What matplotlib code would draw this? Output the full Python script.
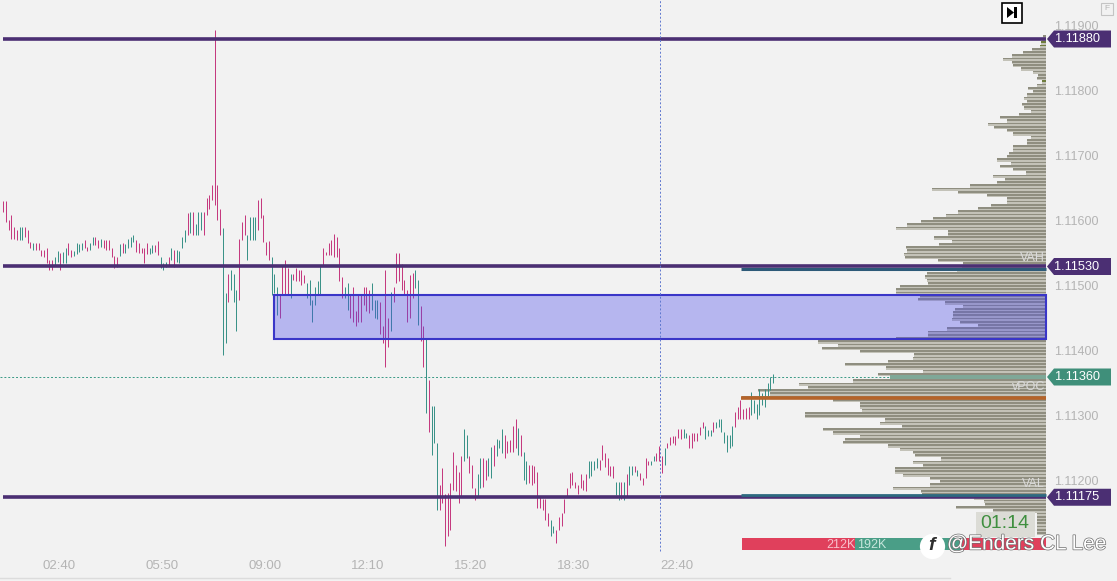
import numpy as np
import matplotlib
matplotlib.use("Agg")
import matplotlib.pyplot as plt
from matplotlib.patches import Rectangle, Polygon
import matplotlib.patheffects as pe

plt.rcParams["font.family"] = ["Liberation Sans", "DejaVu Sans"]

# bar highs / lows, in 1e-5 above 1.10000 (5 min bars)
highs = [1630,1630,1601,1609,1591,1586,1590,1590,1590,1586,1568,1566,1566,1566,1556,1555,1559,1540,1540,1545,
         1554,1550,1553,1558,1566,1555,1554,1566,1565,1566,1570,1560,1566,1575,1575,1571,1573,1571,1571,1571,
         1558,1546,1545,1565,1566,1565,1572,1575,1578,1570,1566,1558,1558,1566,1558,1563,1563,1569,1545,1536,
         1537,1545,1558,1555,1555,1554,1576,1586,1612,1614,1614,1596,1614,1614,1614,1635,1640,1655,1894,1655,
         1619,1589,1489,1519,1524,1519,1494,1573,1599,1609,1578,1606,1606,1606,1632,1635,1609,1568,1569,1545,
         1519,1499,1486,1532,1540,1527,1519,1519,1527,1524,1524,1517,1504,1509,1478,1499,1507,1530,1559,1553,
         1566,1571,1580,1575,1558,1514,1499,1504,
         1486,1499,1461,1486,1486,1499,1499,1494,1505,1479,1479,1475,1439,1525,1450,1491,1499,1550,1550,1534,
         1509,1494,1517,1520,1525,1509,1469,1439,1420,1356,1316,1316,1259,1194,1220,1180,1181,1197,1245,1225,
         1214,1238,1280,1271,1239,1225,1189,1211,1235,1235,1232,1235,1253,1256,1264,1263,1280,1271,1261,1263,
         1284,1295,1281,1271,1245,1230,1225,1225,1223,1214,1176,1173,1173,1150,1140,1130,1125,1145,1150,1173,
         1189,1212,1214,1199,1194,1211,1202,1210,1230,1230,1230,1235,1232,1256,1243,1235,1223,1223,1199,1199,
         1199,1199,1210,1223,1223,1223,1217,1212,1204,1235,1231,1231,1239,1243,1254,1239,1250,1259,1268,1269,
         1269,1280,1280,1280,1274,1271,1274,1274,1274,
         1283,1290,1284,1279,1279,1290,1291,1295,1295,1276,1271,1271,1284,1306,1314,1324,1310,1312,1314,1337,
         1324,1319,1342,1335,1342,1350,1360,1364]
lows = [1614,1599,1586,1573,1573,1571,1571,1571,1576,1566,1558,1555,1555,1555,1546,1545,1535,1524,1524,1532,
        1537,1524,1535,1536,1548,1545,1546,1549,1553,1555,1558,1554,1555,1563,1563,1559,1560,1558,1555,1555,
        1545,1527,1529,1546,1550,1551,1558,1560,1568,1553,1550,1550,1535,1549,1549,1550,1553,1548,1527,1524,
        1529,1532,1540,1529,1537,1536,1558,1568,1578,1581,1578,1578,1578,1586,1578,1609,1619,1632,1625,1601,
        1578,1394,1412,1476,1494,1476,1430,1478,1571,1578,1540,1571,1571,1571,1586,1604,1568,1548,1540,1486,
        1489,1455,1450,1486,1486,1486,1481,1509,1507,1507,1501,1504,1481,1471,1445,1471,1486,1486,1532,1548,
        1548,1548,1545,1545,1507,1481,1481,1463,
        1450,1445,1439,1445,1445,1471,1461,1458,1463,1450,1449,1426,1412,1375,1406,1430,1476,1504,1507,1494,
        1486,1445,1450,1481,1497,1440,1415,1375,1304,1276,1240,1258,1155,1155,1166,1100,1115,1125,1186,1184,
        1166,1176,1230,1235,1212,1189,1171,1176,1189,1191,1202,1207,1204,1223,1238,1250,1243,1235,1243,1245,
        1245,1250,1240,1238,1201,1196,1197,1194,1197,1158,1158,1155,1140,1130,1115,1120,1104,1125,1130,1150,
        1176,1189,1194,1189,1180,1189,1186,1184,1204,1207,1217,1220,1217,1232,1222,1209,1207,1204,1179,1171,
        1172,1171,1176,1194,1209,1214,1207,1202,1194,1204,1225,1225,1230,1230,1230,1212,1225,1250,1256,1259,
        1256,1266,1264,1266,1266,1250,1250,1261,1261,
        1271,1281,1264,1269,1269,1276,1281,1283,1276,1259,1245,1250,1254,1283,1296,1296,1295,1296,1295,1301,
        1304,1295,1301,1317,1314,1330,1340,1350]
# r = down bar, g = up bar, one letter per bar
bar_dir = ("rrrrrrggrrrgrrrrrrrgg" "rggrrggggrrggrrgrrrrrrgrggggrrrrrggrrggg" "rgrggggrgrgggrrrrrr"
           "rggrgggrrrggggrrrrrgggrrrrgrrrrrggggggrrrrr"
           "rrrggrrrrrrrrgggrrrrgrrrrrrrrggrrgrgggrrrrrrrrrg" "grrrggrrggrgggrrrrrgrggrrrrrrrrggrrrrrrrrrrrrgg"
           "ggrrrrrrggrgrggrgrrrrggrrrgrrrrrrggrrrrrrgggrgggggggrrrrrrg")
bar_dir = (bar_dir + "g" * len(highs))[:len(highs)]

# volume profile: row length for each 0.00005 level, from the top down
profile_top = 1885
profile = [3,4,5,6,14,23,34,43,34,33,25,13,8,9,4,9,18,13,19,22,19,24,22,15,27,46,39,58,52,39,33,15,19,19,33,33,37,39,49,35,
           46,33,20,53,41,49,76,114,88,59,39,39,55,68,88,100,113,125,139,150,98,98,112,94,107,140,139,142,141,108,83,84,89,119,121,119,118,146,150,150,
           126,128,101,83,91,93,93,94,86,68,99,118,118,150,228,208,224,186,132,133,158,201,160,123,168,156,193,247,238,288,276,304,213,186,186,184,241,241,161,166,
           144,223,213,186,201,203,158,146,133,131,105,133,123,151,151,143,116,106,116,153,125,124,72,62,61,90,53,9,9,9,9,9,9,9]
olive_rows = [2, 3, 14]

price_ticks = [1.119, 1.118, 1.117, 1.116, 1.115, 1.114, 1.113, 1.112]
time_labels = ["02:40", "05:50", "09:00", "12:10", "15:20", "18:30", "22:40"]
level_lines = [1.1188, 1.1153, 1.11175]
vah, poc, val = 1.11526, 1.11328, 1.11178
last_price = 1.1136
zone_top, zone_bottom = 1.11486, 1.11419
delta_sell, delta_buy, delta_sell2 = 113, 105, 86

W, H = 1117, 581


def ix(px):
    return (px - 3.33) / 2.71 + 1


def ypx(price):
    return 26 + (1.119 - price) * 65000


fig = plt.figure(figsize=(W / 100, H / 100), dpi=100, facecolor="#f2f2f2")

# profile goes underneath, x runs in pixels leftwards from the scale edge
ax_prof = fig.add_axes([0, 0, 1, 1], facecolor="#f2f2f2")
ax_prof.set_xlim(1046, 1046 - W)
ax_prof.set_ylim(1.119 - (H - 26) / 65000, 1.119 + 26 / 65000)
ax_prof.axis("off")
levels = 1.10 + (profile_top - 5 * np.arange(len(profile))) / 1e5
row_cols = ["#6f7d3e" if i in olive_rows else "#8f8e80" for i in range(len(profile))]
ax_prof.barh(levels - 0.000025, profile, height=0.00002, color="#c3c2b8", linewidth=0)
ax_prof.barh(levels, profile, height=0.00003, color=row_cols, linewidth=0)
ax_prof.barh(1.1136, 156, height=0.00005, color="#7fa898", linewidth=0)
# buy/sell strip at the bottom
strip_y = 1.119 - (544 - 26) / 65000
ax_prof.barh(strip_y, delta_sell2, height=0.00018, color="#e0405c", linewidth=0)
ax_prof.barh(strip_y, delta_buy, left=delta_sell2, height=0.00018, color="#4a9e87", linewidth=0)
ax_prof.barh(strip_y, delta_sell, left=delta_sell2 + delta_buy, height=0.00018, color="#e0405c", linewidth=0)

ax = fig.add_axes([0, 0, 1, 1])
ax.patch.set_visible(False)
ax.set_xlim(ix(0), ix(W))
ax.set_ylim(ax_prof.get_ylim())
for s in ax.spines.values():
    s.set_visible(False)

x = np.arange(1, len(highs) + 1)
hi = 1.10 + np.array(highs) / 1e5
lo = 1.10 + np.array(lows) / 1e5
cols = ["#c4357c" if d == "r" else "#358f85" for d in bar_dir]
ax.vlines(x, lo, hi, colors=cols, linewidth=0.7, zorder=2)

# blue zone, sits on top of the bars
ax.add_patch(Rectangle((ix(274), zone_bottom), ix(1046) - ix(274), zone_top - zone_bottom,
                       facecolor=(0.30, 0.30, 0.92, 0.36), edgecolor="#3a36c8", linewidth=1.5, zorder=3))

ax.hlines(level_lines, ix(3), ix(1046), colors="#4b2f73", linewidth=2.6, zorder=4)
ax.hlines(vah, ix(741), ix(1046), colors="#2d5a78", linewidth=2.2, zorder=5)
ax.hlines(val, ix(741), ix(1046), colors="#2d6a80", linewidth=2, zorder=5)
ax.hlines(poc, ix(741), ix(1046), colors="#b5642a", linewidth=2.6, zorder=5)

ax.hlines(last_price, ix(0), ix(890), colors="#3a9a85", linewidth=0.7, linestyles=(0, (2, 2)), zorder=5)
ax.vlines(ix(660), 1.119 - (551 - 26) / 65000, ax.get_ylim()[1], colors="#5f78cf",
          linewidth=0.7, linestyles=(0, (2, 2)), zorder=5)

ax.set_yticks(price_ticks)
ax.set_yticklabels([f"{p:.5f}" for p in price_ticks])
ax.yaxis.tick_right()
ax.tick_params(axis="y", length=0, pad=-45.4, labelsize=9, labelcolor="#b4b4b4")
ax.set_xticks([ix(59) + 38 * i for i in range(len(time_labels))])
ax.set_xticklabels(time_labels)
ax.tick_params(axis="x", length=0, pad=-15, labelsize=9.5, labelcolor="#b4b4b4")

# decorations in pixel coordinates
deco = fig.add_axes([0, 0, 1, 1])
deco.set_xlim(0, W)
deco.set_ylim(H, 0)
deco.axis("off")
deco.patch.set_visible(False)


def tag(price, color, text):
    y = ypx(price)
    deco.add_patch(Polygon([(1047, y), (1054, y - 8.5), (1111, y - 8.5), (1111, y + 8.5), (1054, y + 8.5)],
                           closed=True, facecolor=color, edgecolor="none", zorder=6))
    deco.text(1077, y, text, color="white", fontsize=9.2, ha="center", va="center", zorder=7)


tag(1.1188, "#4b2f73", "1.11880")
tag(1.1153, "#4b2f73", "1.11530")
tag(last_price, "#3f8f7a", "1.11360")
tag(1.11175, "#4b2f73", "1.11175")

for txt, yy in [("VAH", 258), ("vPOC", 387), ("VAL", 484)]:
    deco.text(1045, yy, txt, color="#dadada", fontsize=9, ha="right", va="center", zorder=6)

deco.plot([0, 950], [578, 578], color="#dcdcdc", linewidth=1)

# jump to end button
deco.add_patch(Rectangle((1001.5, 2.5), 20, 20, facecolor="white", edgecolor="black", linewidth=1.2))
deco.add_patch(Polygon([(1007, 7), (1007, 18), (1014, 12.5)], closed=True, facecolor="black"))
deco.add_patch(Rectangle((1014, 7), 2.5, 11, facecolor="black"))
deco.add_patch(Rectangle((1100.5, 2.5), 12, 12, facecolor="none", edgecolor="#c4c4c4", linewidth=0.8))
deco.text(1106.5, 8.5, "F", color="#b4b4b4", fontsize=6, ha="center", va="center")

# timer
deco.add_patch(Rectangle((976, 512), 59, 25, facecolor="#dcdcd6", edgecolor="none", zorder=6))
deco.text(1005, 524, "01:14", color="#3f8f3f", fontsize=14, ha="center", va="center", zorder=7)

deco.text(826, 545, "212K", color="#f7c0cc", fontsize=9, ha="left", va="center", zorder=7)
deco.text(857, 545, "192K", color="#c6e6dc", fontsize=9, ha="left", va="center", zorder=7)

# watermark
deco.scatter([932], [546], s=330, color="white", zorder=8, linewidths=0)
deco.text(932, 546, "f", color="#2e2e2e", fontsize=14, fontstyle="italic", fontweight="bold",
          ha="center", va="center", zorder=9)
deco.text(947, 544, "@Enders CL Lee", color="white", fontsize=15, ha="left", va="center", zorder=9,
          path_effects=[pe.withStroke(linewidth=1.0, foreground="#6e6e6e")])

fig.savefig("out.png", dpi=100, facecolor=fig.get_facecolor())
